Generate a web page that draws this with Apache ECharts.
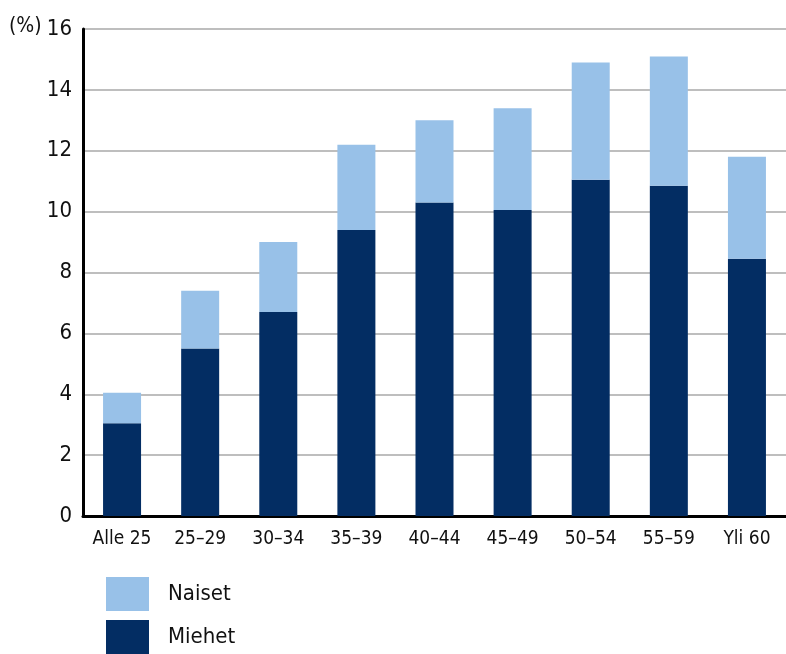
<!DOCTYPE html>
<html><head><meta charset="utf-8">
<script src="https://cdn.jsdelivr.net/npm/echarts@6/dist/echarts.min.js"></script>
<style>html,body{margin:0;padding:0;background:#fff}#c{width:786px;height:654px}</style>
</head><body><div id="c"></div>
<script>
const categories = ['Alle 25','25–29','30–34','35–39','40–44','45–49','50–54','55–59','Yli 60'];
const miehet = [3.05, 5.5, 6.7, 9.4, 10.3, 10.05, 11.05, 10.85, 8.45];
const naiset = [1.0, 1.9, 2.3, 2.8, 2.7, 3.35, 3.85, 4.25, 3.35];
const yTicks = [0, 2, 4, 6, 8, 10, 12, 14, 16];
const FONT = "'Liberation Sans Narrow','DejaVu Sans Condensed','Roboto',sans-serif";
const chart = echarts.init(document.getElementById('c'));
chart.setOption({
  animation: false,
  grid: {left: 83, right: -6, top: 29, bottom: 138, containLabel: false},
  graphic: [{type: 'text', left: 9, top: 16, style: {text: '(%)', font: "21px " + FONT, fill: '#111'}}],
  legend: {
    orient: 'vertical', left: 106, top: 577, itemWidth: 43, itemHeight: 34, itemGap: 9,
    padding: 0, icon: 'rect', data: ['Naiset', 'Miehet'],
    textStyle: {fontFamily: FONT, fontSize: 22, color: '#111', padding: [4, 0, 0, 14]}
  },
  xAxis: {
    type: 'category', data: categories,
    axisLine: {lineStyle: {color: '#000', width: 3}},
    axisTick: {show: false},
    axisLabel: {fontFamily: FONT, fontSize: 19, color: '#111', margin: 14}
  },
  yAxis: {
    type: 'value', min: yTicks[0], max: yTicks[yTicks.length - 1], interval: 2,
    axisLine: {show: true, lineStyle: {color: '#000', width: 3}},
    axisTick: {show: false},
    splitLine: {lineStyle: {color: '#a8a8a8', width: 1.5}},
    axisLabel: {fontFamily: FONT, fontSize: 22, color: '#111', margin: 11}
  },
  series: [
    {name: 'Miehet', type: 'bar', stack: 't', data: miehet, barWidth: 38, itemStyle: {color: '#032d63'}},
    {name: 'Naiset', type: 'bar', stack: 't', data: naiset, barWidth: 38, itemStyle: {color: '#98c1e8'}}
  ]
});
</script></body></html>
